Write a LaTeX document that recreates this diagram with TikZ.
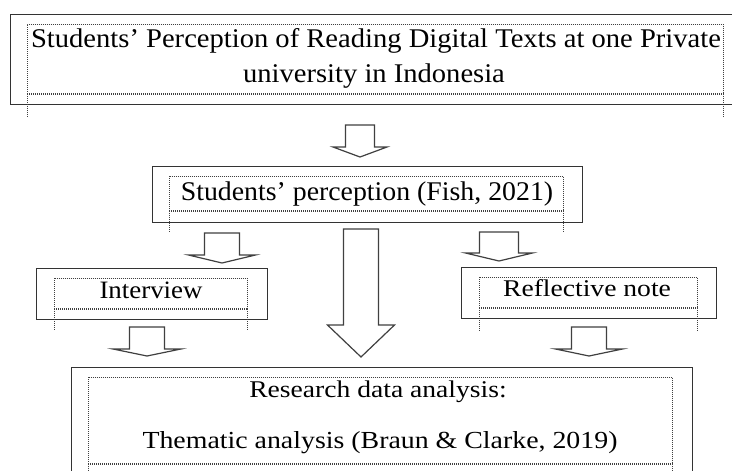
\documentclass[tikz,border=0pt]{standalone}
\usepackage{fontspec}
\setmainfont{Liberation Serif}
\newcommand\stxt[3]{\fontsize{#1}{#1}\selectfont\scalebox{#2}[1]{#3}}
\newcommand\blockarr[6]{%
  \draw[blockarrow] (#1-#5,#2) -- (#1-#5,#3) -- (#1-#6,#3) -- (#1,#4) -- (#1+#6,#3) -- (#1+#5,#3) -- (#1+#5,#2) -- cycle;}
\tikzset{
  outerbox/.style={draw=black!80, line width=1.4pt, inner sep=0pt, anchor=north west},
  innerbox/.style={draw=black!75, line width=0.9pt, dash pattern=on 1pt off 1pt, inner sep=0pt, anchor=north west},
  innerleg/.style={draw=black!75, line width=0.9pt, dash pattern=on 1pt off 1pt},
  innerbase/.style={draw=black!75, line width=1.6pt, dash pattern=on 1pt off 1pt},
  blockarrow/.style={draw=black!75, line width=1.2pt, fill=white, line join=miter},
  lbl/.style={anchor=base, inner sep=0pt, text=black}
}
\begin{document}
\begin{tikzpicture}[x=1pt,y=-1pt]
\useasboundingbox (0,0) rectangle (732,471);
\fill[white] (0,0) rectangle (732,471);

% title
\node[outerbox, minimum width=740pt, minimum height=90pt] (tbox) at (10,14) {};
\node[innerbox, minimum width=696pt, minimum height=69pt] (tin) at (27,24) {};
\draw[innerbase] (tin.south west) -- (tin.south east);
\draw[innerleg] (tin.south west) -- ++(0,24);
\draw[innerleg] (tin.south east) -- ++(0,24);
\node[lbl] (t1) at (376,47) {\stxt{27}{1.058}{Students’ Perception of Reading Digital Texts at one Private}};
\node[lbl] (t2) at (374,82) {\stxt{27}{1.058}{university in Indonesia}};

% students perception
\node[outerbox, minimum width=430pt, minimum height=56pt] (pbox) at (152,166) {};
\node[innerbox, minimum width=394pt, minimum height=34pt] (pin) at (169,176) {};
\draw[innerbase] (pin.south west) -- (pin.south east);
\draw[innerleg] (pin.south west) -- ++(0,22);
\draw[innerleg] (pin.south east) -- ++(0,22);
\node[lbl] (pt) at (367,200) {\stxt{27}{1.03}{Students’ perception (Fish, 2021)}};

% interview
\node[outerbox, minimum width=231pt, minimum height=51pt] (ibox) at (36,268) {};
\node[innerbox, minimum width=193pt, minimum height=30pt] (iin) at (54,278) {};
\draw[innerbase] (iin.south west) -- (iin.south east);
\draw[innerleg] (iin.south west) -- ++(0,22);
\draw[innerleg] (iin.south east) -- ++(0,22);
\node[lbl] (it) at (151,298) {\stxt{25}{1.075}{Interview}};

% reflective note
\node[outerbox, minimum width=255pt, minimum height=51pt] (rbox) at (461,267) {};
\node[innerbox, minimum width=218pt, minimum height=30pt] (rin) at (479,277) {};
\draw[innerbase] (rin.south west) -- (rin.south east);
\draw[innerleg] (rin.south west) -- ++(0,23);
\draw[innerleg] (rin.south east) -- ++(0,23);
\node[lbl] (rt) at (587,296) {\stxt{24}{1.15}{Reflective note}};

% analysis
\node[outerbox, minimum width=621pt, minimum height=120pt] (abox) at (71,367) {};
\node[innerbox, minimum width=584pt, minimum height=86pt] (ain) at (88,377) {};
\draw[innerbase] (ain.south west) -- (ain.south east);
\draw[innerleg] (ain.south west) -- ++(0,12);
\draw[innerleg] (ain.south east) -- ++(0,12);
\node[lbl] (a1) at (378,397) {\stxt{24}{1.15}{Research data analysis:}};
\node[lbl] (a2) at (380,448) {\stxt{24.5}{1.137}{Thematic analysis (Braun \& Clarke, 2019)}};

% block arrows
\blockarr{360}{125}{147}{157}{14.5}{27}
\blockarr{222}{233}{255}{263}{17.5}{33.5}
\blockarr{499}{232}{253}{261}{19.5}{33.5}
\blockarr{147}{327}{349}{356}{17.5}{34}
\blockarr{589}{327}{349}{356}{17.5}{33.5}
\blockarr{361}{229}{325}{357}{17.5}{33.5}
\end{tikzpicture}
\end{document}
